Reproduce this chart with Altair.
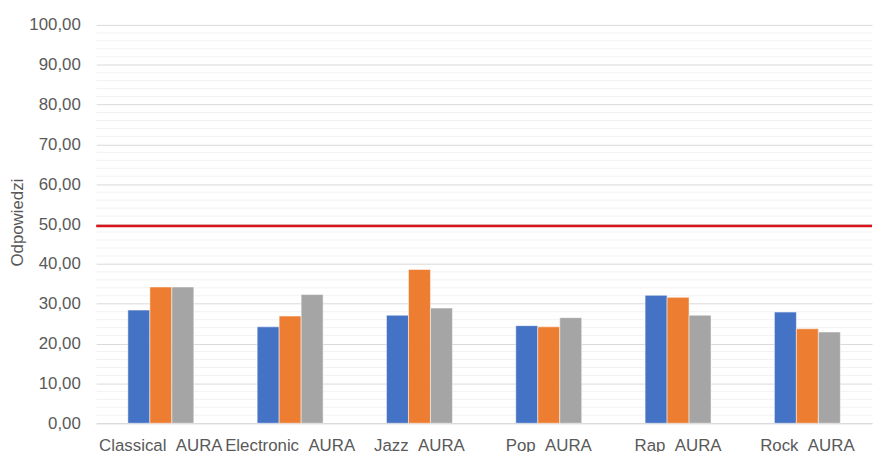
import altair as alt
import pandas as pd

categories = ["Classical\u00a0\u00a0AURA", "Electronic\u00a0\u00a0AURA", "Jazz\u00a0\u00a0AURA",
              "Pop\u00a0\u00a0AURA", "Rap\u00a0\u00a0AURA", "Rock\u00a0\u00a0AURA"]
series_names = ["Seria 1", "Seria 2", "Seria 3"]
series1 = [28.4, 24.2, 27.1, 24.5, 32.1, 27.9]
series2 = [34.2, 26.9, 38.6, 24.2, 31.6, 23.7]
series3 = [34.2, 32.3, 28.9, 26.5, 27.1, 22.9]
threshold = [49.5]
minor_ticks = [v for v in range(0, 101, 2) if v % 10 != 0]
major_ticks = list(range(0, 101, 10))
colors = ["#4472C4", "#ED7D31", "#A5A5A5"]

rows = []
for i, c in enumerate(categories):
    for s, vals in zip(series_names, [series1, series2, series3]):
        rows.append({"cat": c, "series": s, "value": vals[i]})
df = pd.DataFrame(rows)

yscale = alt.Scale(domain=[0, 100], nice=False)

minor = alt.Chart(pd.DataFrame({"v": minor_ticks})).mark_rule(
    color="#F2F2F2", strokeWidth=1
).encode(y=alt.Y("v:Q", scale=yscale))

bars = alt.Chart(df).mark_bar(stroke="white", strokeWidth=0.5).encode(
    x=alt.X("cat:N", sort=categories, title=None,
            scale=alt.Scale(paddingInner=0.49, paddingOuter=0.245),
            axis=alt.Axis(labelAngle=0, labelOverlap=False, labelFontSize=17,
                          labelColor="#595959", labelFont="Liberation Sans",
                          ticks=False, domainColor="#D9D9D9", domainWidth=1,
                          labelPadding=15, grid=False)),
    xOffset=alt.XOffset("series:N", sort=series_names),
    y=alt.Y("value:Q", scale=yscale, title="Odpowiedzi",
            axis=alt.Axis(values=major_ticks, labelExpr="replace(format(datum.value, '.2f'), '.', ',')",
                          labelFontSize=17, labelColor="#595959", labelFont="Liberation Sans",
                          ticks=False, domain=False, gridColor="#D9D9D9", gridWidth=1,
                          labelPadding=16, titleFontSize=17, titleColor="#595959",
                          titleFont="Liberation Sans", titleFontWeight="normal",
                          titleX=-79, titleY=199, titleAngle=270,
                          titleAlign="center", titleBaseline="middle")),
    color=alt.Color("series:N", sort=series_names,
                    scale=alt.Scale(domain=series_names, range=colors), legend=None),
)

red = alt.Chart(pd.DataFrame({"t": threshold})).mark_rule(
    color="#D9141B", strokeWidth=2.5
).encode(y=alt.Y("t:Q", scale=yscale))

chart = alt.layer(minor, bars, red).properties(
    width=783, height=402,
    background="white",
    autosize=alt.AutoSizeParams(type="none"),
    padding={"left": 89, "top": 15, "right": 3, "bottom": 30},
).configure_view(stroke=None)

chart.save("out.html", embed_options={"renderer": "svg", "actions": False})
